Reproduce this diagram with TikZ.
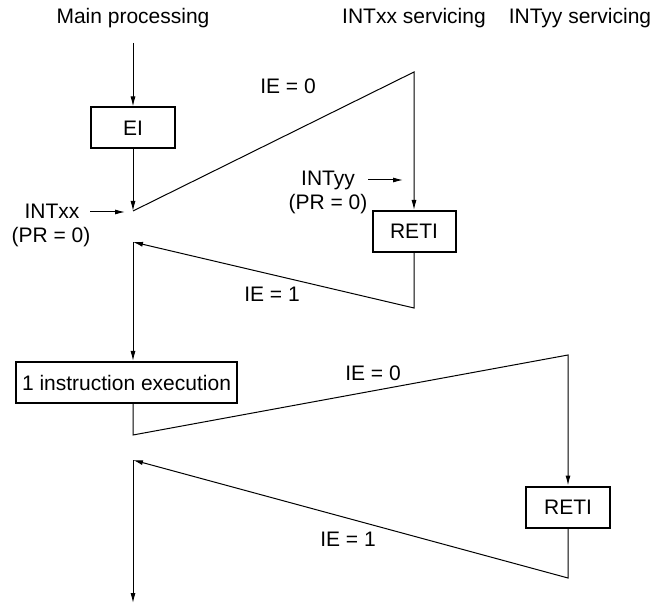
\documentclass[tikz,border=0pt]{standalone}
\usepackage{fontspec}
\setmainfont{Liberation Sans}
\usetikzlibrary{arrows.meta}
\begin{document}
\begin{tikzpicture}[x=1pt,y=-1pt,
  every node/.style={font=\fontsize{21}{25}\selectfont, inner sep=0pt},
  box/.style={draw, line width=2pt, minimum height=41pt},
  flow/.style={line width=1pt},
  arr/.style={flow, -{Latex[length=10pt,width=5pt]}}]
\useasboundingbox (0,0) rectangle (656,609);
% headers
\node (hmain) at (133,18) {Main processing};
\node (hxx) at (414,18) {INTxx servicing};
\node (hyy) at (580,18) {INTyy servicing};
% boxes
\node[box, minimum width=84pt] (ei) at (133,128) {EI};
\node[box, minimum width=83pt] (reti1) at (414,231.5) {RETI};
\node[box, minimum width=221pt] (exec) at (126.5,382.5) {1 instruction execution};
\node[box, minimum width=84pt] (reti2) at (568,507) {RETI};
% coordinates
\coordinate (s0) at (133,43);
\coordinate (j1) at (133,211);
\coordinate (t1) at (414,72);
\coordinate (b1) at (414,308);
\coordinate (r1) at (133,242);
\coordinate (j2) at (133,435);
\coordinate (t2) at (568,355);
\coordinate (b2) at (568,578);
\coordinate (r2) at (133,460);
\coordinate (e0) at (133,603);
% flow
\draw[arr] (s0) -- (ei.north);
\draw[arr] (ei.south) -- (j1);
\draw[arr] (j1) -- (t1) -- (reti1.north);
\draw[arr] (reti1.south) -- (b1) -- (r1);
\draw[arr] (r1) -- (r1 |- exec.north);
\draw[arr] (exec.south -| j2) -- (j2) -- (t2) -- (reti2.north);
\draw[arr] (reti2.south) -- (b2) -- (r2);
\draw[arr] (r2) -- (e0);
% interrupt requests
\node (ixx) at (52,211) {INTxx};
\node (ixxpr) at (51,237) {(PR = 0)};
\coordinate (ixa) at (90,212);
\coordinate (ixb) at (125,212);
\draw[arr] (ixa) -- (ixb);
\node (iyy) at (328,180) {INTyy};
\node (iyypr) at (328,204) {(PR = 0)};
\coordinate (iya) at (368,180);
\coordinate (iyb) at (403,180);
\draw[arr] (iya) -- (iyb);
% IE labels
\node (ie0a) at (288,86) {IE = 0};
\node (ie1a) at (272,294) {IE = 1};
\node (ie0b) at (373,373) {IE = 0};
\node (ie1b) at (348,539) {IE = 1};
\end{tikzpicture}
\end{document}
